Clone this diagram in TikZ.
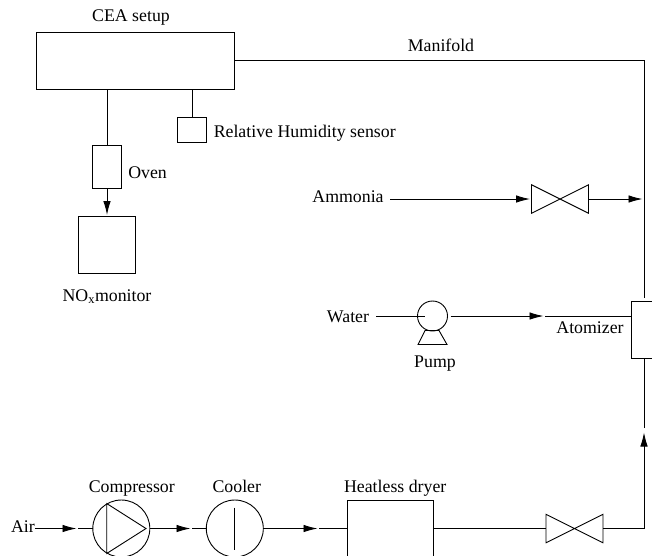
\documentclass[tikz,border=0pt]{standalone}
\usepackage{fontspec}
\setmainfont{Liberation Serif}
\usetikzlibrary{arrows.meta,positioning}
\tikzset{
    pipe/.style={line width=0.9pt,black},
    pipearrow/.style={pipe,-{Latex[length=14pt,width=7.5pt]},shorten >=1.5pt},
    unit/.style={draw,line width=0.9pt,inner sep=0pt,outer sep=0pt},
    rotary/.style={unit,circle,minimum size=57pt},
    valvebox/.style={inner sep=0pt,outer sep=0pt,minimum width=57pt,minimum height=28.5pt},
    tag/.style={inner sep=0pt,outer sep=0pt,font=\fontsize{17.8}{20}\selectfont}
}

\begin{document}
\begin{tikzpicture}[x=1pt,y=-1pt]
    \useasboundingbox (0,0) rectangle (652,555);
    \clip (0,0) rectangle (652,555);
    % upper left
    \node[unit,minimum width=198pt,minimum height=57pt] (cea) at (135,60.5) {};
    \node[tag,above=7pt of cea,xshift=-4pt] (cealabel) {CEA setup};
    \node[unit,minimum width=28.5pt,minimum height=43pt] (oven) at (107,167) {};
    \node[tag,right=7pt of oven,yshift=-6pt] (ovenlabel) {Oven};
    \node[unit,below=28pt of oven,minimum width=57pt,minimum height=57pt] (monitor) {};
    \node[tag,below=16pt of monitor] (monitorlabel) {NO\textsubscript{x}monitor};
    \node[unit,minimum width=28.5pt,minimum height=25pt] (sensor) at (192,129.5) {};
    \node[tag,right=7.5pt of sensor,yshift=-4pt] (sensorlabel) {Relative Humidity sensor};
    \draw[pipe] (cea.south -| oven) -- (oven);
    \draw[pipearrow] (oven) -- (monitor);
    \draw[pipe] (cea.south -| sensor) -- (sensor);
    % manifold
    \node[tag] (manifoldlabel) at (441,45) {Manifold};
    \node[unit,minimum width=57pt,minimum height=57pt] (atomizer) at (660,330) {};
    \node[tag] (atomizerlabel) at (590,328) {Atomizer};
    \coordinate (mantop) at (644,297.5);
    \coordinate (manbottom) at (644,358);
    \coordinate (risertip) at (644,431);
    \coordinate (riserstart) at (644,428);
    \draw[pipe] (cea.east) -| (mantop);
    \draw[pipe] (riserstart) -- (manbottom);
    % ammonia
    \node[tag] (ammonia) at (348,197) {Ammonia};
    \node[valvebox] (ammvalve) at (560,199) {};
    \coordinate (ammstart) at (390,199);
    \draw[pipe] (ammvalve.north west) -- (ammvalve.south east) -- (ammvalve.north east) -- (ammvalve.south west) -- cycle;
    \draw[pipearrow] (ammstart) -- (ammvalve.west);
    \draw[pipearrow] (ammvalve.east) -- (ammvalve -| mantop);
    % water
    \node[tag] (water) at (348,317) {Water};
    \node[unit,circle,minimum size=30pt] (pump) at (432.5,316) {};
    \node[tag,below=25pt of pump,xshift=2.5pt] (pumplabel) {Pump};
    \coordinate (waterstart) at (376,316);
    \coordinate (waterend) at (425,316);
    \coordinate (atomtip) at (545,316);
    \draw[pipe] (waterstart) -- (waterend);
    \draw[pipe] (425,330.5) -- (439,330.5) -- (447,344.5) -- (418,344.5) -- cycle;
    \draw[pipearrow] ([xshift=3pt]pump.east) -- (atomtip);
    \draw[pipe] (atomtip) -- (atomizer.west |- atomtip);
    % bottom row
    \node[tag] (air) at (23,527) {Air};
    \node[rotary] (compressor) at (121.3,528.5) {};
    \node[tag,above=3.5pt of compressor,xshift=10.5pt] (compressorlabel) {Compressor};
    \draw[pipe] (106.7,503.5) -- (106.7,553.5) -- (146,528.5) -- cycle;
    \node[rotary] (cooler) at (234.8,528.5) {};
    \node[tag,above=7pt of cooler,xshift=2pt] (coolerlabel) {Cooler};
    \draw[pipe] (234.5,507.5) -- (234.5,550);
    \node[unit,minimum width=85.5pt,minimum height=57pt] (dryer) at (390.2,528.5) {};
    \node[tag,above=3.5pt of dryer,xshift=5pt] (dryerlabel) {Heatless dryer};
    \node[valvebox] (airvalve) at (574.5,528.5) {};
    \draw[pipe] (airvalve.north west) -- (airvalve.south east) -- (airvalve.north east) -- (airvalve.south west) -- cycle;
    \coordinate (airtip) at (78,528.5);
    \coordinate (comptip) at (192,528.5);
    \coordinate (cooltip) at (319,528.5);
    \draw[pipearrow] (air.east |- airtip) -- (airtip);
    \draw[pipe] (airtip) -- (compressor);
    \draw[pipearrow] (compressor) -- (comptip);
    \draw[pipe] (comptip) -- (cooler);
    \draw[pipearrow] (cooler) -- (cooltip);
    \draw[pipe] (cooltip) -- (dryer);
    \draw[pipe] (dryer) -- (airvalve.west);
    \draw[pipearrow] (airvalve.east) -| (risertip);
\end{tikzpicture}
\end{document}
